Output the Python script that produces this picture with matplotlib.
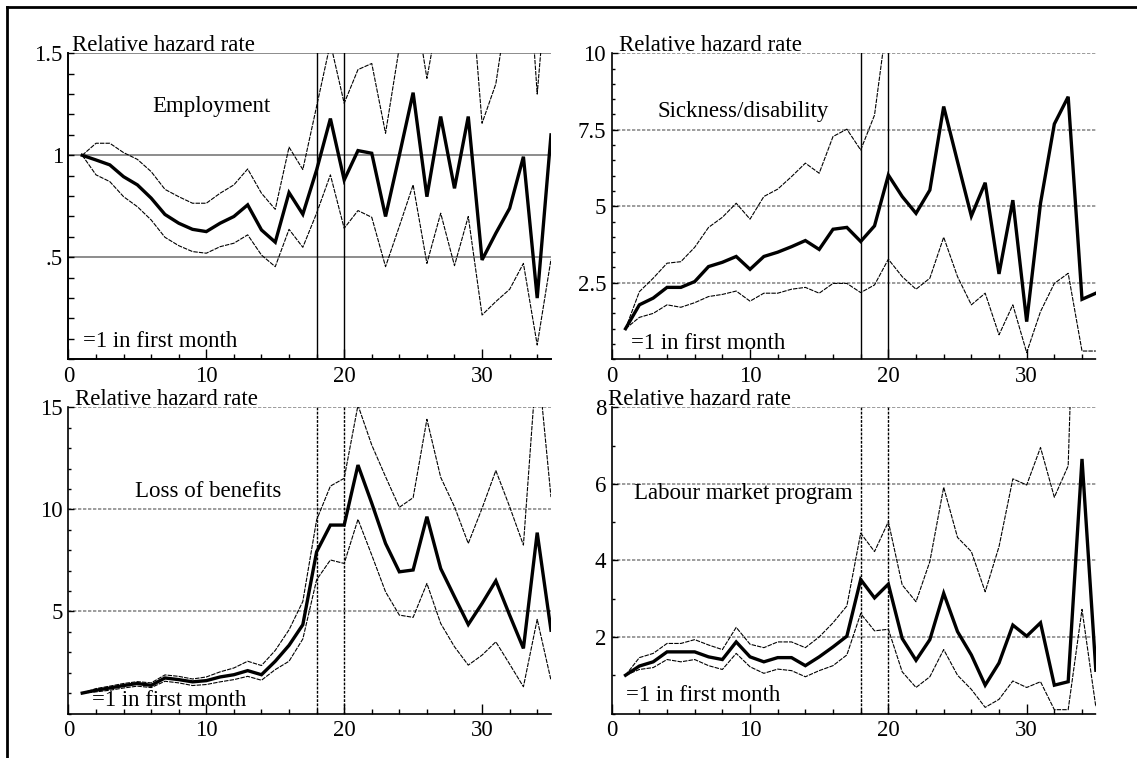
import matplotlib
matplotlib.use('Agg')
import matplotlib.pyplot as plt
from matplotlib.lines import Line2D
from matplotlib.ticker import MultipleLocator

# months since start, same for all panels
months = list(range(1, 36))

# employment
emp_mid = [1.0, 0.977, 0.953, 0.895, 0.855, 0.79, 0.71, 0.667, 0.637, 0.626, 0.667, 0.70,
           0.757, 0.634, 0.574, 0.817, 0.711, 0.928, 1.18, 0.879, 1.023, 1.01, 0.70, 1.0,
           1.307, 0.797, 1.19, 0.838, 1.19, 0.487, 0.618, 0.74, 0.993, 0.30, 1.10]
emp_hi = [1.0, 1.059, 1.059, 1.013, 0.98, 0.92, 0.833, 0.797, 0.765, 0.765, 0.814, 0.855,
          0.933, 0.814, 0.735, 1.04, 0.93, 1.24, 1.55, 1.255, 1.42, 1.45, 1.108, 1.53,
          1.8, 1.377, 1.75, 1.7, 2.0, 1.157, 1.35, 1.8, 2.3, 1.30, 2.1]
emp_lo = [1.0, 0.904, 0.871, 0.797, 0.748, 0.683, 0.598, 0.557, 0.528, 0.52, 0.552, 0.569,
          0.61, 0.511, 0.454, 0.637, 0.549, 0.716, 0.904, 0.642, 0.729, 0.696, 0.454, 0.652,
          0.855, 0.47, 0.716, 0.459, 0.70, 0.217, 0.283, 0.343, 0.47, 0.07, 0.49]

# sickness / disability
sick_mid = [1.0, 1.78, 2.0, 2.35, 2.35, 2.54, 3.03, 3.17, 3.36, 2.94, 3.36, 3.5, 3.68, 3.88,
            3.59, 4.25, 4.31, 3.85, 4.36, 6.02, 5.32, 4.77, 5.53, 8.26, 6.46, 4.68, 5.77,
            2.79, 5.2, 1.23, 5.1, 7.69, 8.58, 1.96, 2.16]
sick_hi = [1.0, 2.21, 2.65, 3.14, 3.19, 3.66, 4.31, 4.64, 5.1, 4.58, 5.32, 5.56, 5.97, 6.41,
           6.08, 7.28, 7.52, 6.84, 7.98, 11.4, 11.0, 10.5, 12.0, 17.0, 14.0, 12.0, 14.0,
           10.5, 14.0, 11.0, 16.0, 20.0, 22.0, 11.0, 12.0]
sick_lo = [1.0, 1.37, 1.5, 1.78, 1.7, 1.85, 2.05, 2.12, 2.23, 1.9, 2.16, 2.16, 2.29, 2.35,
           2.16, 2.48, 2.48, 2.18, 2.43, 3.27, 2.7, 2.29, 2.65, 3.99, 2.7, 1.78, 2.16, 0.8,
           1.78, 0.22, 1.56, 2.48, 2.81, 0.27, 0.27]

# loss of benefits
ben_mid = [1.0, 1.14, 1.25, 1.37, 1.47, 1.38, 1.74, 1.66, 1.55, 1.61, 1.79, 1.9, 2.1, 1.9,
           2.56, 3.34, 4.35, 7.92, 9.23, 9.23, 12.17, 10.3, 8.33, 6.94, 7.03, 9.64, 7.1,
           5.72, 4.36, 5.39, 6.5, 4.82, 3.19, 8.86, 4.08]
ben_hi = [1.0, 1.22, 1.34, 1.47, 1.56, 1.5, 1.89, 1.82, 1.69, 1.79, 2.04, 2.23, 2.56, 2.35,
          3.09, 4.1, 5.49, 9.48, 11.14, 11.52, 15.1, 13.15, 11.6, 10.1, 10.57, 14.41, 11.57,
          10.13, 8.33, 10.05, 11.9, 10.13, 8.25, 17.6, 10.6]
ben_lo = [1.0, 1.06, 1.14, 1.25, 1.34, 1.27, 1.58, 1.5, 1.37, 1.42, 1.55, 1.66, 1.82, 1.63,
          2.15, 2.56, 3.65, 6.55, 7.52, 7.35, 9.51, 7.76, 5.96, 4.82, 4.71, 6.37, 4.41, 3.27,
          2.37, 2.86, 3.51, 2.42, 1.31, 4.61, 1.63]

# labour market program
lmp_mid = [1.0, 1.24, 1.35, 1.61, 1.61, 1.61, 1.48, 1.41, 1.87, 1.48, 1.35, 1.46, 1.46, 1.25,
           1.48, 1.74, 2.02, 3.5, 3.02, 3.38, 1.96, 1.39, 1.93, 3.14, 2.14, 1.53, 0.74, 1.32,
           2.31, 2.02, 2.37, 0.74, 0.83, 6.65, 1.13]
lmp_hi = [1.0, 1.46, 1.57, 1.83, 1.83, 1.93, 1.79, 1.67, 2.25, 1.81, 1.72, 1.87, 1.87, 1.72,
          2.0, 2.37, 2.81, 4.71, 4.23, 5.01, 3.36, 2.92, 3.97, 5.91, 4.6, 4.23, 3.18, 4.36,
          6.13, 5.97, 6.95, 5.65, 6.47, 18.0, 9.0]
lmp_lo = [1.0, 1.15, 1.2, 1.41, 1.35, 1.41, 1.25, 1.15, 1.57, 1.22, 1.05, 1.16, 1.12, 0.96,
          1.12, 1.25, 1.53, 2.61, 2.16, 2.2, 1.09, 0.68, 0.96, 1.67, 1.0, 0.63, 0.16, 0.37,
          0.85, 0.68, 0.83, 0.1, 0.1, 2.72, 0.17]

x_ticks = [0, 10, 20, 30]
rule_months = [18, 20]


class PanelSet(object):
    font = 'Liberation Serif'
    font_size = 16.5
    mid_width = 2.4
    band_width = 0.8
    band_style = (0, (4, 1))
    dot_style = (0, (2, 1))
    grid_color = '#8c8c8c'

    @staticmethod
    def ax_set(ax, ylim, yticks, ylabels, yminor, solid):
        ax.set_xlim(0, 35)
        ax.set_ylim(*ylim)
        ax.set_xticks(x_ticks)
        ax.set_xticklabels([str(t) for t in x_ticks])
        ax.xaxis.set_minor_locator(MultipleLocator(2))
        ax.set_yticks(yticks)
        ax.set_yticklabels(ylabels)
        ax.yaxis.set_minor_locator(MultipleLocator(yminor))
        ax.tick_params(which='both', direction='in', width=1, color='black',
                       labelsize=PanelSet.font_size, labelfontfamily=PanelSet.font)
        ax.tick_params(axis='x', which='major', length=7, pad=5)
        ax.tick_params(axis='x', which='minor', length=3.5)
        ax.tick_params(axis='y', which='major', length=4, pad=4)
        ax.tick_params(axis='y', which='minor', length=4 if solid else 2.5)
        for pos in ['top', 'right']:
            ax.spines[pos].set_visible(False)
        for pos in ['left', 'bottom']:
            ax.spines[pos].set_linewidth(1.4 if solid else 1.2)
            if not solid:
                ax.spines[pos].set_linestyle(PanelSet.dot_style)
        for v in yticks:
            ax.axhline(v, color=PanelSet.grid_color, lw=1.4 if solid else 1.2,
                       ls='-' if solid else PanelSet.dot_style, zorder=1)


def draw_panel(ax, mid, lo, hi, ylim, yticks, ylabels, yminor, title, title_xy,
               head_x, note_xy, solid=False, solid_rules=False):
    PanelSet.ax_set(ax, ylim, yticks, ylabels, yminor, solid)
    for m in rule_months:
        ax.axvline(m, color='black', lw=1.0, ls='-' if solid_rules else PanelSet.dot_style,
                   zorder=2)
    ax.plot(months, hi, color='black', lw=PanelSet.band_width, ls=PanelSet.band_style, zorder=3)
    ax.plot(months, lo, color='black', lw=PanelSet.band_width, ls=PanelSet.band_style, zorder=3)
    ax.plot(months, mid, color='black', lw=PanelSet.mid_width, solid_joinstyle='miter', zorder=4)
    ax.text(title_xy[0], title_xy[1], title, ha='center', va='center',
            fontsize=PanelSet.font_size, family=PanelSet.font)
    ax.text(head_x, 1.006, 'Relative hazard rate', transform=ax.transAxes, ha='left',
            va='baseline', fontsize=PanelSet.font_size, family=PanelSet.font)
    ax.text(note_xy[0], note_xy[1], '=1 in first month', transform=ax.transAxes, ha='left',
            va='baseline', fontsize=PanelSet.font_size, family=PanelSet.font)


if __name__ == '__main__':
    fig = plt.figure(num='fig', figsize=(11.37, 7.58), dpi=100)
    ax1 = fig.add_axes([0.0602, 0.526, 0.4244, 0.4037])
    ax2 = fig.add_axes([0.538, 0.526, 0.4258, 0.4037])
    ax3 = fig.add_axes([0.0602, 0.0587, 0.4244, 0.404])
    ax4 = fig.add_axes([0.538, 0.0587, 0.4258, 0.404])

    draw_panel(ax1, emp_mid, emp_lo, emp_hi, (0, 1.5), [0.5, 1, 1.5], ['.5', '1', '1.5'], 0.1,
               'Employment', (10.34, 1.237), 0.008, (0.03, 0.041), solid=True, solid_rules=True)
    draw_panel(ax2, sick_mid, sick_lo, sick_hi, (0, 10), [2.5, 5, 7.5, 10],
               ['2.5', '5', '7.5', '10'], 0.5,
               'Sickness/disability', (9.5, 8.09), 0.015, (0.039, 0.033), solid_rules=True)
    draw_panel(ax3, ben_mid, ben_lo, ben_hi, (0, 15), [5, 10, 15], ['5', '10', '15'], 1,
               'Loss of benefits', (10.1, 10.87), 0.013, (0.048, 0.025))
    draw_panel(ax4, lmp_mid, lmp_lo, lmp_hi, (0, 8), [2, 4, 6, 8], ['2', '4', '6', '8'], 1,
               'Labour market program', (9.55, 5.75), -0.008, (0.03, 0.04))

    # frame on the left and top of the picture
    fig.add_artist(Line2D([6.7 / 1137, 6.7 / 1137], [0, 1 - 6.7 / 758], color='black', lw=2))
    fig.add_artist(Line2D([6.7 / 1137, 1], [1 - 6.7 / 758, 1 - 6.7 / 758], color='black', lw=2))

    fig.savefig('out.png', dpi=100)
